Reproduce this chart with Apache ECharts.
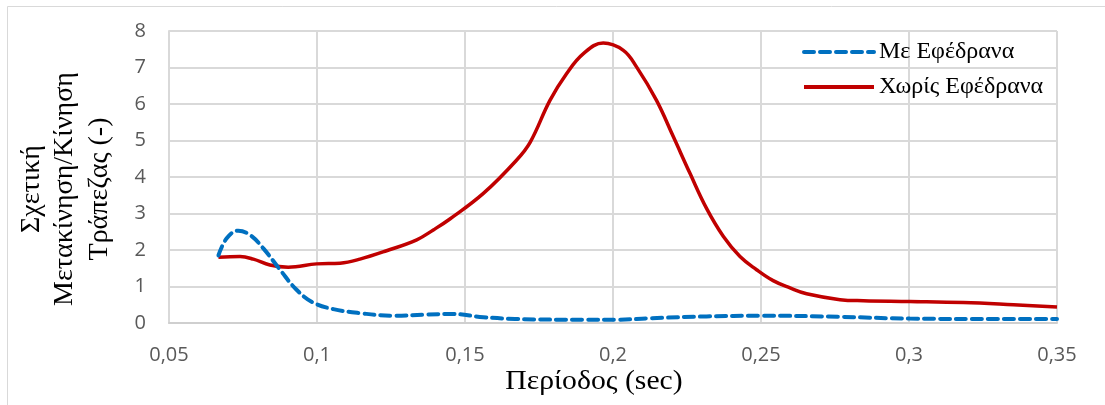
<!DOCTYPE html>
<html>
<head>
<meta charset="utf-8">
<script src="https://cdn.jsdelivr.net/npm/echarts@6/dist/echarts.min.js"></script>
<style>
html,body{margin:0;padding:0;background:#fff;}
#chart{width:1105px;height:405px;}
</style>
</head>
<body>
<div id="chart"></div>
<script>
// Series names
const seriesNames = ['Με Εφέδρανα', 'Χωρίς Εφέδρανα'];
const xAxisTitle = 'Περίοδος (sec)';
const yAxisTitleLines = ['Σχετική', 'Μετακίνηση/Κίνηση', 'Τράπεζας (-)'];

// Με Εφέδρανα (blue dashed) : [period, value]
const withBearings = [
  [0.0667, 1.85], [0.0695, 2.32], [0.0734, 2.53], [0.0774, 2.41], [0.0818, 2.05],
  [0.0875, 1.46], [0.0931, 0.91], [0.0987, 0.56], [0.1055, 0.38], [0.1145, 0.27],
  [0.1258, 0.20], [0.137, 0.23], [0.145, 0.25], [0.1562, 0.16], [0.1669, 0.11],
  [0.19, 0.09], [0.2012, 0.09], [0.2125, 0.13], [0.2316, 0.18], [0.2497, 0.20],
  [0.2767, 0.17], [0.3003, 0.12], [0.3296, 0.11], [0.35, 0.11]
];

// Χωρίς Εφέδρανα (red solid) : [period, value]
const withoutBearings = [
  [0.0667, 1.80], [0.074, 1.82], [0.0785, 1.75], [0.0841, 1.59], [0.0903, 1.53],
  [0.0999, 1.62], [0.1078, 1.64], [0.1145, 1.75], [0.1235, 1.98], [0.1337, 2.28],
  [0.1393, 2.55], [0.1449, 2.85], [0.1562, 3.55], [0.1674, 4.46], [0.172, 4.95],
  [0.1787, 6.10], [0.1843, 6.83], [0.19, 7.38], [0.1967, 7.67], [0.2035, 7.47],
  [0.208, 7.01], [0.2147, 6.10], [0.2204, 5.10], [0.226, 4.10], [0.2316, 3.14],
  [0.2373, 2.37], [0.2429, 1.82], [0.2485, 1.46], [0.2541, 1.16], [0.2598, 0.96],
  [0.2654, 0.80], [0.2767, 0.64], [0.2846, 0.61], [0.3003, 0.59], [0.3184, 0.56],
  [0.3353, 0.50], [0.35, 0.44]
];

const chart = echarts.init(document.getElementById('chart'), null, {renderer: 'canvas'});
const tickFont = {fontFamily: 'Open Sans', fontSize: 20, color: '#595959'};
const serif = 'Liberation Serif';
const yTitle = (text, x) => ({
  type: 'text', x: x, y: 189, rotation: Math.PI / 2,
  style: {text: text, fontFamily: serif, fontSize: 28, fill: '#000', textAlign: 'center', textVerticalAlign: 'middle'}
});
const option = {
  animation: false,
  backgroundColor: '#fff',
  grid: {left: 169, right: 48, top: 31, bottom: 82, containLabel: false},
  xAxis: {
    type: 'value', min: 0.05, max: 0.35, interval: 0.05,
    axisLine: {show: true, lineStyle: {color: '#cfcfcf', width: 2}},
    axisTick: {show: false},
    splitLine: {show: true, lineStyle: {color: '#d9d9d9', width: 2}},
    axisLabel: Object.assign({margin: 22, formatter: v => String(+v.toFixed(2)).replace('.', ',')}, tickFont)
  },
  yAxis: {
    type: 'value', min: 0, max: 8, interval: 1,
    axisLine: {show: true, lineStyle: {color: '#d9d9d9', width: 2}},
    axisTick: {show: false},
    splitLine: {show: true, lineStyle: {color: '#d9d9d9', width: 2}},
    axisLabel: Object.assign({margin: 23}, tickFont)
  },
  legend: {
    orient: 'vertical', left: 797, top: 35,
    itemWidth: 70, itemHeight: 14, itemGap: 11,
    itemStyle: {opacity: 0},
    lineStyle: {width: 4},
    textStyle: {fontFamily: serif, fontSize: 24, color: '#000', lineHeight: 24},
    data: seriesNames
  },
  graphic: [
    {type: 'rect', shape: {x: 7.5, y: 6.5, width: 1200, height: 600}, style: {fill: 'none', stroke: '#d9d9d9', lineWidth: 1}, silent: true},
    {type: 'text', x: 594, y: 382, scaleX: 1.1,
     style: {text: xAxisTitle, fontFamily: serif, fontSize: 27, fill: '#000', textAlign: 'center', textVerticalAlign: 'middle'}},
    yTitle(yAxisTitleLines[0], 32),
    yTitle(yAxisTitleLines[1], 65),
    yTitle(yAxisTitleLines[2], 100)
  ],
  series: [
    {
      name: seriesNames[0], type: 'line', data: withBearings, smooth: 0.4,
      symbol: 'none', z: 3,
      lineStyle: {color: '#0070C0', width: 4, type: [10, 6], cap: 'round'},
      itemStyle: {color: '#0070C0'}
    },
    {
      name: seriesNames[1], type: 'line', data: withoutBearings, smooth: 0.4,
      symbol: 'none', z: 2,
      lineStyle: {color: '#C00000', width: 3.5},
      itemStyle: {color: '#C00000'}
    }
  ]
};
chart.setOption(option);
</script>
</body>
</html>
